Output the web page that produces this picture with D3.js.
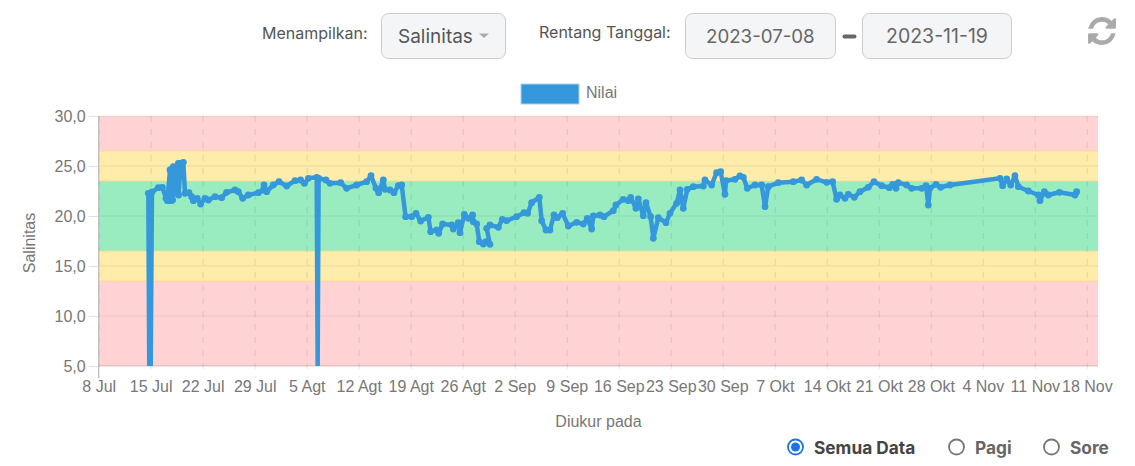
<!DOCTYPE html>
<html>
<head>
<meta charset="utf-8">
<title>Salinitas</title>
<style>
  body { margin: 0; background: #fff; overflow: hidden; }
  svg { display: block; }
  .ui { font-family: Inter, sans-serif; }
  .chart-text { font-family: "Liberation Sans", Arial, sans-serif; fill: #777; font-size: 16px; }
</style>
</head>
<body>
<script src="https://d3js.org/d3.v7.min.js"></script>
<script>
// days since 8 Jul
const measuredDays = [
  6.68, 6.8, 7.0, 7.17, 8.03, 8.57, 9.06, 9.24, 9.6, 9.73, 9.85, 9.95, 10.05, 10.13, 10.72, 10.75, 11.03, 11.39, 11.62,
  12.15, 12.51, 12.74, 13.27, 13.72, 14.31, 14.76, 15.65, 16.55, 17.22, 18.35, 18.79, 19.38, 20.14, 21.49,
  22.16, 22.25, 22.61, 23.5, 24.27, 25.3, 26.42, 27.18, 27.68, 28.22, 29.34, 29.47, 29.6, 30.59, 31.13,
  32.57, 33.37, 34.72, 36.07, 36.65, 37.32, 37.68, 38.31, 38.53, 39.2, 39.74, 40.33, 40.78, 41.31, 42.12,
  42.71, 43.33, 44.37, 44.68, 45.49, 45.76, 46.29, 47.51, 47.73, 48.4, 48.63, 49.21, 49.75, 50.33, 50.42,
  50.87, 51.23, 51.77, 52.13, 52.66, 52.22, 52.66, 53.79, 54.32, 54.91, 56.25, 57.24, 57.73, 58.27, 59.3,
  59.62, 60.2, 60.74, 61.28, 61.73, 62.44, 63.21, 64.33, 65.23, 65.76, 66.35, 66.57, 67.47, 68.01, 69.26,
  69.62, 70.61, 71.28, 71.6, 72.31, 72.63, 73.3, 73.66, 74.29, 74.65, 75.32, 76.35, 76.89, 77.79, 78.24,
  78.68, 79.22, 80.03, 81.38, 81.6, 82.5, 83.17, 83.71, 84.29, 84.43, 85.64, 86.31, 86.76, 87.3, 88.33,
  89.23, 89.68, 90.12, 91.47, 93.49, 94.61, 95.28, 96.63, 97.98, 98.78, 99.32, 99.77, 100.44, 100.89,
  101.7, 102.46, 103.58, 104.35, 105.38, 106.41, 106.86, 107.31, 107.62, 108.74, 109.42, 110.76, 111.35,
  111.66, 111.88, 112.69, 113.32, 114.58, 121.31, 121.67, 122.21, 122.75, 123.33, 123.78, 125.12, 126.47,
  126.69, 127.28, 127.82, 129.3, 131.4, 131.63
];
const salinity = [
  22.27, 5, 5, 22.4, 22.83, 22.87, 21.77, 21.53, 24.6, 21.53, 24.7, 21.6, 24.93, 22.27, 25.27, 22.1, 25.27, 25.37, 22.27,
  22.33, 21.93, 21.53, 21.77, 21.2, 21.77, 21.6, 21.93, 21.83, 22.37, 22.6, 22.43, 21.77, 22.1, 22.33,
  22.6, 23.1, 22.43, 23.1, 23.43, 23, 23.53, 23.6, 23.27, 23.77, 23.87, 5, 23.77, 23.6, 23.27,
  23.33, 22.77, 23.1, 23.43, 24.03, 22.77, 22.33, 23.6, 22.67, 22.6, 22.33, 23.03, 23.1, 19.93, 19.93,
  20.27, 19.5, 19.87, 18.43, 18.6, 18.27, 19.2, 19.1, 18.7, 19.33, 18.33, 20.17, 19.77, 20.1, 19.43,
  19.2, 17.43, 17.2, 17.43, 17.17, 18.77, 19.1, 18.87, 19.67, 19.53, 19.93, 20.33, 20.27, 21.33, 21.87,
  19.53, 18.6, 18.6, 20.1, 19.83, 20.27, 19, 19.37, 19.2, 19.77, 18.7, 20, 20.1, 19.93, 20.53,
  21.1, 21.67, 21.53, 21.87, 20.77, 21.7, 20.03, 21.33, 19.93, 17.77, 19.83, 19.33, 20.27, 21.27, 22.6,
  20.77, 22.67, 22.93, 23, 23.6, 23.1, 24.33, 24.43, 22.17, 23.53, 23.67, 24, 23.87, 22.77, 23.1,
  23.1, 20.93, 22.93, 23.33, 23.43, 23.6, 23.1, 23.67, 23.37, 23.43, 21.67, 22.1, 21.77, 22.17,
  21.87, 22.43, 22.87, 23.43, 23.03, 22.83, 23.17, 22.77, 23.33, 23.1, 22.77, 22.77, 23.03,
  21.1, 22.77, 23.17, 22.87, 23.1, 23.77, 23.03, 23.7, 23.1, 24.03, 22.93, 22.5, 22.1,
  21.53, 22.43, 22.1, 22.37, 22.1, 22.43
];

const tickDates = [
  '2023-07-08', '2023-07-15', '2023-07-22', '2023-07-29', '2023-08-05', '2023-08-12', '2023-08-19',
  '2023-08-26', '2023-09-02', '2023-09-09', '2023-09-16', '2023-09-23', '2023-09-30', '2023-10-07',
  '2023-10-14', '2023-10-21', '2023-10-28', '2023-11-04', '2023-11-11', '2023-11-18'
];
const tickLabels = [
  '8 Jul', '15 Jul', '22 Jul', '29 Jul', '5 Agt', '12 Agt', '19 Agt', '26 Agt', '2 Sep', '9 Sep',
  '16 Sep', '23 Sep', '30 Sep', '7 Okt', '14 Okt', '21 Okt', '28 Okt', '4 Nov', '11 Nov', '18 Nov'
];
const yTicks = [5, 10, 15, 20, 25, 30];

// threshold bands: lower value, upper value
const bandLow = [5, 13.5, 16.5, 23.5, 26.5];
const bandHigh = [13.5, 16.5, 23.5, 26.5, 30];
const bandFill = ['#ffd3d4', '#feecaa', '#98ecc0', '#feecaa', '#ffd3d4'];
const bandEdges = [13.5, 16.5, 23.5, 26.5];

const width = 1135, height = 466;
const plotLeft = 98.7, plotRight = 1098, plotTop = 116, plotBottom = 366;
const blue = '#3498db';

const startDate = new Date('2023-07-08T00:00:00Z');
const endDate = new Date('2023-11-19T12:00:00Z');
const toDate = d => new Date(+startDate + d * 864e5);

const x = d3.scaleUtc().domain([startDate, endDate]).range([plotLeft, plotRight]);
const y = d3.scaleLinear().domain([5, 30]).range([plotBottom, plotTop]);

const svg = d3.select('body').append('svg')
    .attr('width', width)
    .attr('height', height);

svg.append('clipPath').attr('id', 'plot')
  .append('rect')
    .attr('x', plotLeft)
    .attr('y', plotTop)
    .attr('width', plotRight - plotLeft)
    .attr('height', plotBottom - plotTop);

// ===== bands =====
svg.selectAll('.band')
  .data(bandLow)
  .enter().append('rect')
    .attr('class', 'band')
    .attr('x', plotLeft)
    .attr('width', plotRight - plotLeft)
    .attr('y', (d, i) => y(bandHigh[i]))
    .attr('height', (d, i) => y(d) - y(bandHigh[i]))
    .attr('fill', (d, i) => bandFill[i]);

svg.append('g').selectAll('line')
  .data(bandEdges)
  .enter().append('line')
    .attr('x1', plotLeft)
    .attr('x2', plotRight)
    .attr('y1', d => y(d))
    .attr('y2', d => y(d))
    .attr('stroke', '#fbd98a')
    .attr('stroke-opacity', 0.7);

// ===== grid and axes =====
const xAxis = d3.axisBottom(x)
    .tickValues(tickDates.map(d => new Date(d + 'T00:00:00Z')))
    .tickFormat((d, i) => tickLabels[i])
    .tickSize(plotBottom - plotTop + 12)
    .tickPadding(3);

const gx = svg.append('g')
    .attr('transform', `translate(0,${plotTop})`)
    .call(xAxis);
gx.select('.domain').remove();
gx.selectAll('line')
    .attr('stroke', 'rgba(0,0,0,0.07)')
    .attr('stroke-width', 1.5)
    .attr('stroke-dasharray', '6,7');
gx.selectAll('text').attr('class', 'chart-text');

const yAxis = d3.axisLeft(y)
    .tickValues(yTicks)
    .tickFormat(d => d.toFixed(1).replace('.', ','))
    .tickSize(10)
    .tickPadding(3);

const gy = svg.append('g')
    .attr('transform', `translate(${plotLeft},0)`)
    .call(yAxis);
gy.select('.domain').remove();
gy.selectAll('line').attr('stroke', 'rgba(0,0,0,0.12)');
gy.selectAll('text').attr('class', 'chart-text');

svg.append('g').selectAll('line')
  .data(yTicks)
  .enter().append('line')
    .attr('x1', plotLeft)
    .attr('x2', plotRight)
    .attr('y1', d => y(d))
    .attr('y2', d => y(d))
    .attr('stroke', d => d === 5 ? 'rgba(0,0,0,0.18)' : 'rgba(0,0,0,0.07)');

svg.append('line')
    .attr('x1', plotLeft).attr('x2', plotLeft)
    .attr('y1', plotTop).attr('y2', plotBottom + 12)
    .attr('stroke', '#bbb')
    .attr('stroke-width', 1.2);

// ===== series =====
const line = d3.line()
    .x(d => x(toDate(d)))
    .y((d, i) => y(salinity[i]));

const series = svg.append('g').attr('clip-path', 'url(#plot)');

series.append('path')
    .datum(measuredDays)
    .attr('d', line)
    .attr('fill', 'none')
    .attr('stroke', blue)
    .attr('stroke-width', 4.5)
    .attr('stroke-linejoin', 'round');

series.selectAll('circle')
  .data(measuredDays)
  .enter().append('circle')
    .attr('cx', d => x(toDate(d)))
    .attr('cy', (d, i) => y(salinity[i]))
    .attr('r', (d, i) => salinity[i] === 5 ? 0 : 3.4)
    .attr('fill', blue);

// ===== titles and legend =====
svg.append('text')
    .attr('class', 'chart-text')
    .attr('transform', 'translate(35,243) rotate(-90)')
    .attr('text-anchor', 'middle')
    .text('Salinitas');

svg.append('text')
    .attr('class', 'chart-text')
    .attr('x', 598.5)
    .attr('y', 427)
    .attr('text-anchor', 'middle')
    .text('Diukur pada');

svg.append('rect')
    .attr('x', 521)
    .attr('y', 84)
    .attr('width', 58)
    .attr('height', 20)
    .attr('fill', blue)
    .attr('stroke', '#a8d3ef');

svg.append('text')
    .attr('class', 'chart-text')
    .attr('x', 586)
    .attr('y', 98)
    .text('Nilai');

// ===== controls above the chart =====
const label = (txt, px, py, size, color, weight) => svg.append('text')
    .attr('class', 'ui')
    .attr('x', px)
    .attr('y', py)
    .attr('font-size', size)
    .attr('font-weight', weight || 400)
    .attr('fill', color)
    .text(txt);

const box = (px, w) => svg.append('rect')
    .attr('x', px + 0.5)
    .attr('y', 13.5)
    .attr('width', w)
    .attr('height', 45)
    .attr('rx', 7)
    .attr('fill', '#f4f5f7')
    .attr('stroke', '#ccc');

label('Menampilkan:', 262, 38.5, 16, '#555');
box(381, 124);
label('Salinitas', 398, 42.5, 19, '#555');
svg.append('path')
    .attr('d', 'M479,33.5h10l-5,4.5z')
    .attr('fill', '#aaa');

label('Rentang Tanggal:', 539, 38, 16, '#555');
box(685, 150);
label('2023-07-08', 706, 43, 18.7, '#666');
svg.append('rect')
    .attr('x', 842.5)
    .attr('y', 34.5)
    .attr('width', 14)
    .attr('height', 4)
    .attr('rx', 2)
    .attr('fill', '#666');
box(862, 149);
label('2023-11-19', 886, 43, 19.5, '#666');

svg.append('path')
    .attr('transform', 'translate(1085.7,14.7) scale(0.0182)')
    .attr('fill', '#aaa')
    .attr('d', 'M1639 1056q0 5-1 7-64 268-268 434.5t-478 166.5q-146 0-282.5-55t-243.5-157l-129 129q-19 19-45 19t-45-19-19-45v-448q0-26 19-45t45-19h448q26 0 45 19t19 45-19 45l-137 137q71 66 161 102t187 36q134 0 250-65t186-179q11-17 53-117 8-23 30-23h192q13 0 22.5 9.5t9.5 22.5zm25-800v448q0 26-19 45t-45 19h-448q-26 0-45-19t-19-45 19-45l138-138q-148-137-349-137-134 0-250 65t-186 179q-11 17-53 117-8 23-30 23h-199q-13 0-22.5-9.5t-9.5-22.5v-7q65-268 270-434.5t480-166.5q146 0 284 55.5t245 156.5l130-129q19-19 45-19t45 19 19 45z');

// ===== radio buttons =====
const radio = (cx, on) => {
  svg.append('circle')
      .attr('cx', cx)
      .attr('cy', 447)
      .attr('r', 7.5)
      .attr('fill', '#fff')
      .attr('stroke', on ? '#1a73e8' : '#777')
      .attr('stroke-width', 1.8);
  if (on) {
    svg.append('circle')
        .attr('cx', cx)
        .attr('cy', 447)
        .attr('r', 4.5)
        .attr('fill', '#1a73e8');
  }
};

radio(795.5, true);
label('Semua Data', 814, 453.5, 17.3, '#444', 700);
radio(956.5, false);
label('Pagi', 975, 453.5, 17.3, '#666', 700);
radio(1051.5, false);
label('Sore', 1070, 453.5, 17.3, '#666', 700);
</script>
</body>
</html>
